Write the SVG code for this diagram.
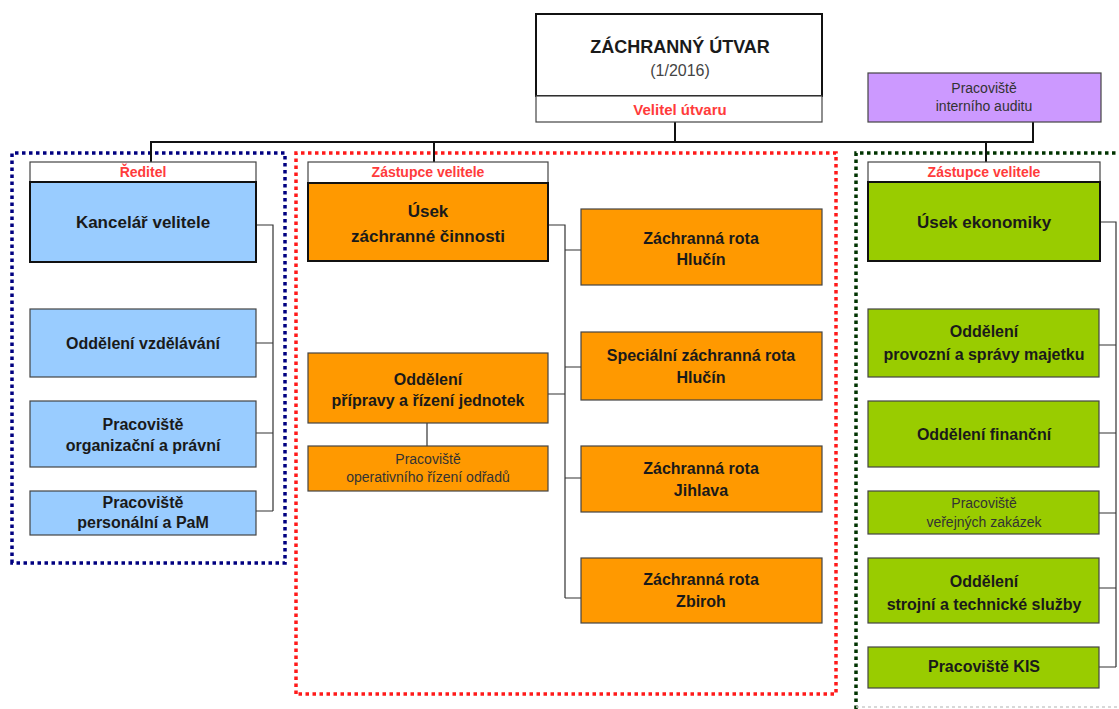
<svg xmlns="http://www.w3.org/2000/svg" width="1119" height="709" viewBox="0 0 1119 709">
<style>
text{font-family:"Liberation Sans",Arial,sans-serif;text-anchor:middle;fill:#1a1a1a}
.b{font-weight:bold;font-size:16px}
.m{font-weight:bold;font-size:17px}
.r{font-size:14px;fill:#333}
.h{font-size:14px;font-weight:bold;fill:#ff3b3b}
.box{stroke:#444;stroke-width:1.2}
.main{stroke:#111;stroke-width:2}
.blue{fill:#99ccff}.orange{fill:#ff9900}.green{fill:#99cc00}.purple{fill:#cc99ff}.white{fill:#fff}
.ln{fill:none;stroke:#333;stroke-width:1.2}
.bus{fill:none;stroke:#111;stroke-width:2}
.dot{fill:none;stroke-width:3.5;stroke-dasharray:3.5 3.5}
</style>
<rect width="1119" height="709" fill="#fff"/>
<g id="frames">
<path class="dot" d="M12 563 V153 H285 V563 Z" stroke="#000080"/>
<path class="dot" d="M296 694 V153 H836 V694 Z" stroke="#ff1a1a"/>
<path class="dot" d="M856 709 V153 H1119" stroke="#003300"/>
<path d="M856 707 H1119" stroke="#ccc" stroke-width="1.5" stroke-dasharray="3 3" fill="none"/>
</g>
<g id="connectors">
<path class="bus" d="M675 122 V142 M151 162 V142 H1033 V122 M434 142 V162 M986 142 V162"/>
<path class="ln" d="M256 225 H273 V511 M256 343 H273 M256 433 H273 M256 511 H273"/>
<path class="ln" d="M548 225 H565 V598 M565 250 H581 M565 367 H581 M565 478 H581 M565 598 H581 M548 394 H565"/>
<path class="ln" d="M427 423 V446"/>
<path class="ln" d="M1100 222 H1116 V667 M1099 345 H1116 M1099 433 H1116 M1099 513 H1116 M1099 588 H1116 M1099 667 H1116"/>
</g>
<g id="root">
<rect x="536" y="14" width="286" height="82" class="white main"/>
<rect x="536" y="96" width="286" height="26" class="white box"/>
<text x="680" y="53" style="font-weight:bold;font-size:18px">ZÁCHRANNÝ ÚTVAR</text>
<text x="680" y="76" style="font-size:16px;fill:#444">(1/2016)</text>
<text x="680" y="115" class="h" style="font-size:15px">Velitel útvaru</text>
</g>
<g id="audit">
<rect x="868" y="73" width="233" height="49" class="purple box"/>
<text x="984" y="93" class="r">Pracoviště</text>
<text x="984" y="111" class="r">interního auditu</text>
</g>
<g id="reditel">
<rect x="30" y="162" width="226" height="20" class="white box"/>
<text x="143" y="177" class="h">Ředitel</text>
<rect x="30" y="182" width="226" height="80" class="blue main"/>
<text x="143" y="228" class="m">Kancelář velitele</text>
</g>
<g id="vzdelavani">
<rect x="30" y="309" width="226" height="68" class="blue box"/>
<text x="143" y="349" class="b">Oddělení vzdělávání</text>
</g>
<g id="organizacni">
<rect x="30" y="401" width="226" height="66" class="blue box"/>
<text x="143" y="430" class="b">Pracoviště</text>
<text x="143" y="451" class="b">organizační a právní</text>
</g>
<g id="personalni">
<rect x="30" y="491" width="226" height="44" class="blue box"/>
<text x="143" y="508" class="b">Pracoviště</text>
<text x="143" y="528" class="b">personální a PaM</text>
</g>
<g id="usek-zachranne">
<rect x="308" y="162" width="240" height="21" class="white box"/>
<text x="428" y="177" class="h">Zástupce velitele</text>
<rect x="308" y="183" width="240" height="78" class="orange main"/>
<text x="428" y="217" class="m">Úsek</text>
<text x="428" y="242" class="m">záchranné činnosti</text>
</g>
<g id="priprava">
<rect x="308" y="353" width="240" height="70" class="orange box"/>
<text x="428" y="385" class="b">Oddělení</text>
<text x="428" y="406" class="b">přípravy a řízení jednotek</text>
</g>
<g id="operativni">
<rect x="308" y="446" width="240" height="45" class="orange box"/>
<text x="428" y="464" class="r">Pracoviště</text>
<text x="428" y="482" class="r">operativního řízení odřadů</text>
</g>
<g id="rota-hlucin">
<rect x="581" y="209" width="241" height="76" class="orange box"/>
<text x="701" y="244" class="b">Záchranná rota</text>
<text x="701" y="265" class="b">Hlučín</text>
</g>
<g id="specialni">
<rect x="581" y="332" width="241" height="68" class="orange box"/>
<text x="701" y="361" class="b">Speciální záchranná rota</text>
<text x="701" y="383" class="b">Hlučín</text>
</g>
<g id="rota-jihlava">
<rect x="581" y="446" width="241" height="66" class="orange box"/>
<text x="701" y="474" class="b">Záchranná rota</text>
<text x="701" y="496" class="b">Jihlava</text>
</g>
<g id="rota-zbiroh">
<rect x="581" y="558" width="241" height="65" class="orange box"/>
<text x="701" y="585" class="b">Záchranná rota</text>
<text x="701" y="607" class="b">Zbiroh</text>
</g>
<g id="usek-ekonomiky">
<rect x="868" y="162" width="232" height="20" class="white box"/>
<text x="984" y="177" class="h">Zástupce velitele</text>
<rect x="868" y="182" width="232" height="79" class="green main"/>
<text x="984" y="228" class="m">Úsek ekonomiky</text>
</g>
<g id="provozni">
<rect x="868" y="309" width="231" height="68" class="green box"/>
<text x="984" y="337" class="b">Oddělení</text>
<text x="984" y="360" class="b">provozní a správy majetku</text>
</g>
<g id="financni">
<rect x="868" y="401" width="231" height="66" class="green box"/>
<text x="984" y="440" class="b">Oddělení finanční</text>
</g>
<g id="zakazky">
<rect x="868" y="491" width="231" height="43" class="green box"/>
<text x="984" y="508" class="r">Pracoviště</text>
<text x="984" y="527" class="r">veřejných zakázek</text>
</g>
<g id="strojni">
<rect x="868" y="558" width="231" height="65" class="green box"/>
<text x="984" y="587" class="b">Oddělení</text>
<text x="984" y="610" class="b">strojní a technické služby</text>
</g>
<g id="kis">
<rect x="868" y="647" width="231" height="41" class="green box"/>
<text x="984" y="672" class="b">Pracoviště KIS</text>
</g>
</svg>
